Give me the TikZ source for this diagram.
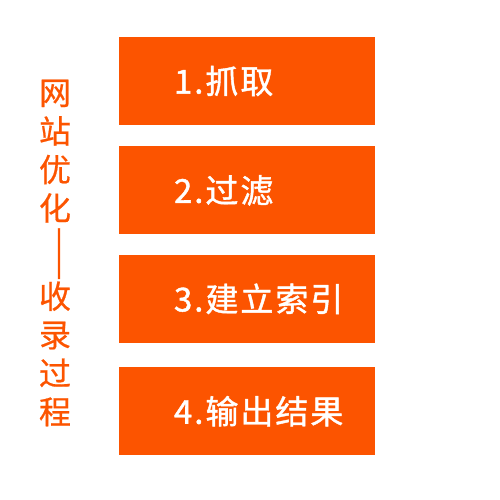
\documentclass[tikz,border=0pt]{standalone}
\usepackage{fontspec}
\newfontfamily\cjk[FakeBold=1.2, LetterSpace=6]{Noto Sans CJK SC}
\newfontfamily\cjktitle[FakeBold=0.6]{Noto Sans CJK SC}
\usetikzlibrary{positioning}
\definecolor{seoorange}{RGB}{252,84,0}

\begin{document}
\begin{tikzpicture}[
  x=1pt, y=-1pt,
  node distance=21pt,
  stepbox/.style={rectangle, fill=seoorange, text=white,
    minimum width=256pt, minimum height=88pt, text width=256pt,
    inner xsep=0pt, inner ysep=0pt, align=left,
    font=\cjk\fontsize{33}{38}\selectfont,
    execute at begin node=\hspace*{55pt}},
  title/.style={text=seoorange, align=center,
    font=\cjktitle\fontsize{32}{38.5}\selectfont}
]
  \useasboundingbox (0,0) rectangle (500,500);
  \node[stepbox] (grab) at (247,81) {1.抓取};
  \node[stepbox, below=of grab] (filter) {2.过滤};
  \node[stepbox, below=20pt of filter] (index) {3.建立索引};
  \node[stepbox, below=24pt of index] (output) {4.输出结果};
  \node[title] (process) at (55,253)
    {网\\站\\优\\化\\\rotatebox[origin=c]{-90}{——}\\收\\录\\过\\程};
\end{tikzpicture}
\end{document}
